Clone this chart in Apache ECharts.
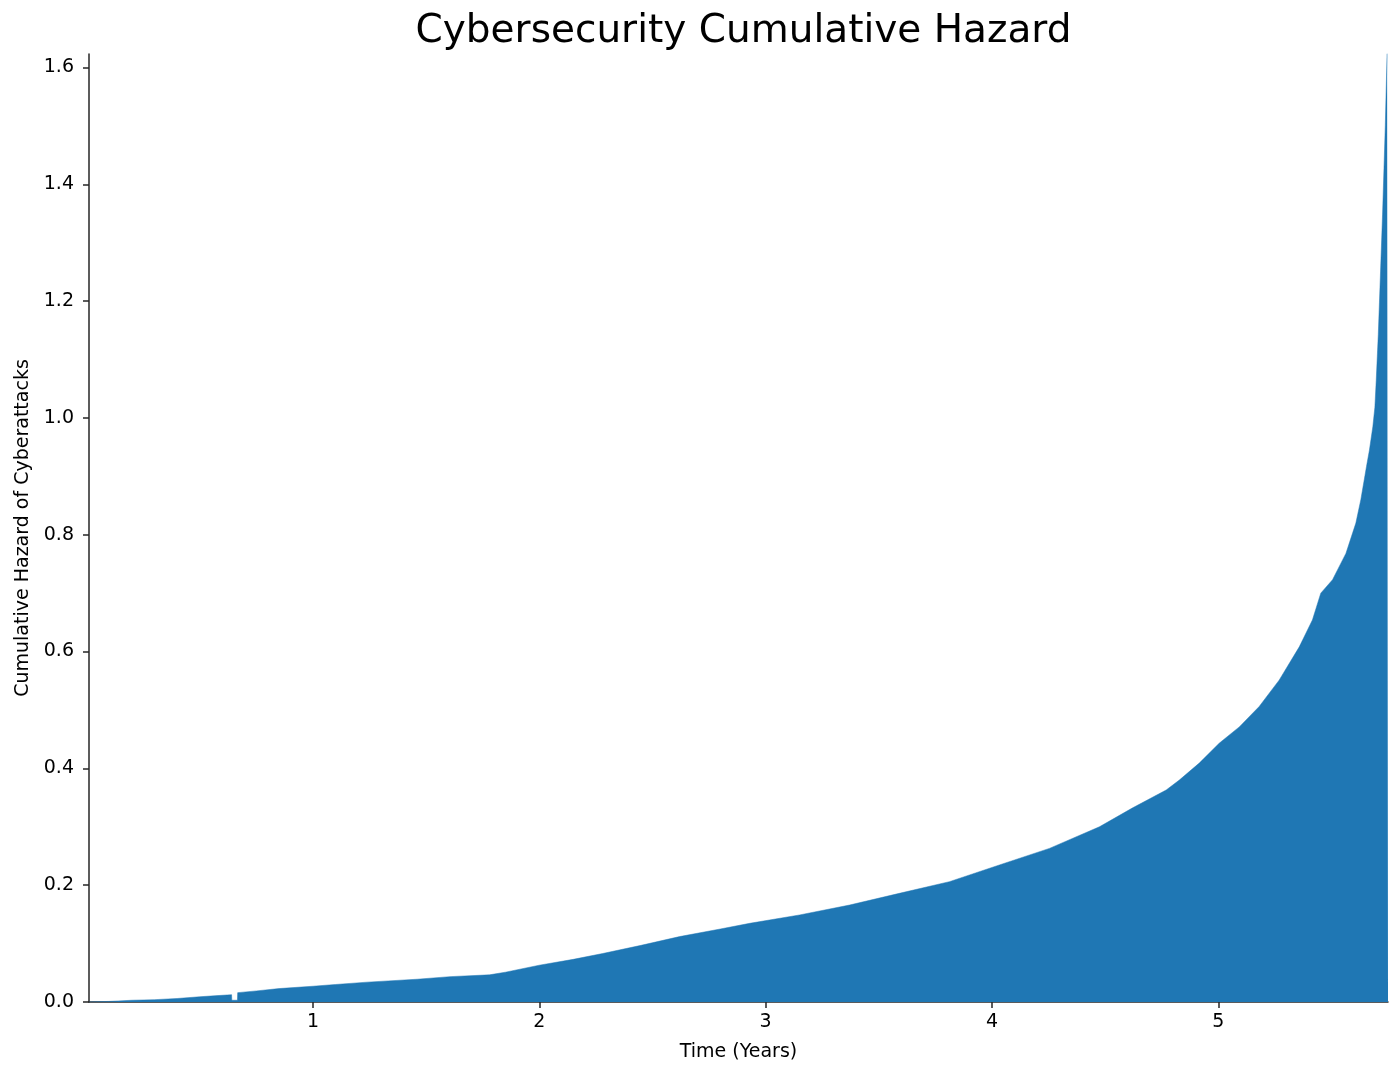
<!DOCTYPE html>
<html>
<head>
<meta charset="utf-8">
<script src="https://cdn.jsdelivr.net/npm/echarts@6/dist/echarts.min.js"></script>
<style>
  html, body { margin: 0; padding: 0; background: #fff; }
  #main { width: 1400px; height: 1078px; }
</style>
</head>
<body>
<div id="main"></div>
<script>
	/*************** data **************/
	var timeYears = [0.01, 0.10, 0.20, 0.30, 0.40, 0.50, 0.58, 0.640, 0.641, 0.666, 0.667, 0.75, 0.85, 1.00, 1.10, 1.24, 1.46, 1.605, 1.78,
		1.85, 2.00, 2.15, 2.28, 2.45, 2.62, 2.80, 2.93, 3.15, 3.371, 3.591, 3.812, 4.033, 4.254, 4.475, 4.62, 4.77, 4.828,
		4.916, 5.004, 5.093, 5.181, 5.269, 5.358, 5.416, 5.453, 5.505, 5.564, 5.608, 5.630, 5.645, 5.655, 5.668, 5.683,
		5.692, 5.698, 5.707, 5.717, 5.726, 5.738, 5.746, 5.75];
	var cumHazard = [0.000, 0.001, 0.003, 0.004, 0.006, 0.009, 0.011, 0.0125, 0.003, 0.003, 0.016, 0.019, 0.023, 0.027, 0.030, 0.034, 0.039, 0.0434, 0.0465,
		0.051, 0.063, 0.073, 0.083, 0.097, 0.112, 0.125, 0.1347, 0.149, 0.166, 0.186, 0.206, 0.2346, 0.263, 0.300, 0.332, 0.363, 0.380,
		0.409, 0.443, 0.471, 0.506, 0.551, 0.608, 0.654, 0.700, 0.723, 0.768, 0.820, 0.860, 0.894, 0.917, 0.945, 0.985,
		1.018, 1.064, 1.142, 1.250, 1.349, 1.500, 1.625, 1.625];
	var xTicks = [1, 2, 3, 4, 5];
	var yTicks = [0, 0.2, 0.4, 0.6, 0.8, 1.0, 1.2, 1.4, 1.6];

	var hazardChart = echarts.init(document.getElementById("main"));
	var pts = [];
	for (var i = 0; i < timeYears.length; i++) {
		pts.push([timeYears[i], cumHazard[i]]);
	}
	var axisCol = '#262626';
	var hazardOpt = {
		animation: false,
		textStyle: { fontFamily: 'DejaVu Sans' },
		title: {
			text: 'Cybersecurity Cumulative Hazard',
			left: 738.5,
			textAlign: 'center',
			top: 7,
			textStyle: {
				color: '#000',
				fontSize: 39,
				fontWeight: 'normal',
				fontFamily: 'DejaVu Sans'
			}
		},
		grid: {
			left: 89,
			right: 12,
			top: 54,
			bottom: 76
		},
		xAxis: {
			type: 'value',
			min: 0.01,
			max: 5.75,
			name: 'Time (Years)',
			nameLocation: 'middle',
			nameGap: 41,
			nameTextStyle: { color: '#000', fontSize: 19, fontFamily: 'DejaVu Sans' },
			splitLine: { show: false },//no grid
			axisLine: { lineStyle: { color: axisCol, width: 1.5 } },
			axisTick: {
				customValues: xTicks,
				length: 6,
				lineStyle: { color: axisCol, width: 1.5 }
			},
			axisLabel: {
				customValues: xTicks,
				color: '#000',
				fontSize: 19,
				margin: 11,
				fontFamily: 'DejaVu Sans'
			}
		},
		yAxis: {
			type: 'value',
			min: 0,
			max: 1.623,
			name: 'Cumulative Hazard of Cyberattacks',
			nameLocation: 'middle',
			nameGap: 56,
			nameTextStyle: { color: '#000', fontSize: 19, fontFamily: 'DejaVu Sans' },
			splitLine: { show: false },
			axisLine: { show: true, lineStyle: { color: axisCol, width: 1.5 } },
			axisTick: {
				show: true,
				customValues: yTicks,
				length: 6,
				lineStyle: { color: axisCol, width: 1.5 }
			},
			axisLabel: {
				customValues: yTicks,
				color: '#000',
				fontSize: 19,
				margin: 15,
				fontFamily: 'DejaVu Sans',
				formatter: function (v) { return v.toFixed(1); }
			}
		},
		series: [{
			type: 'line',
			data: pts,
			symbol: 'none',
			clip: true,
			lineStyle: { width: 0.5, color: '#1f77b4' },
			areaStyle: { color: '#1f77b4', opacity: 1 },
			z: 1
		}]
	};
	hazardChart.setOption(hazardOpt);
</script>
</body>
</html>
